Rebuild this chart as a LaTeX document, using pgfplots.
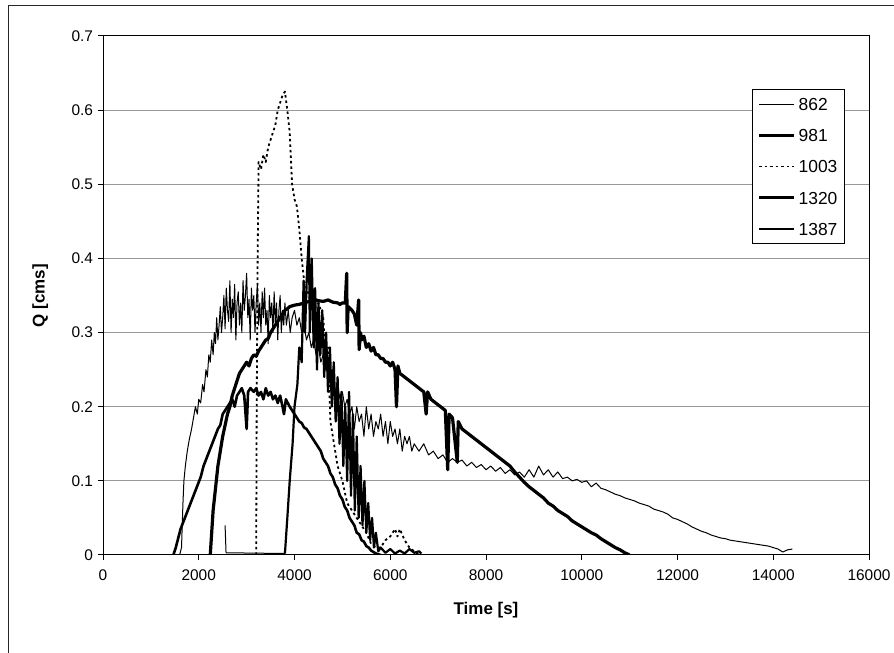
\documentclass[border=0pt]{standalone}
\usepackage{fontspec}
\setmainfont{Liberation Sans}
\usepackage{pgfplots}
\pgfplotsset{compat=1.18}
\begin{document}
\begin{tikzpicture}[x=1bp,y=1bp]
\path[use as bounding box] (0,0) rectangle (894,653);
\draw[line width=1bp, black!85] (8,0) -- (8,647) -- (894,647);
\begin{axis}[
  at={(103bp,98bp)}, anchor=south west,
  scale only axis, width=766bp, height=519bp,
  xmin=0, xmax=16000, ymin=0, ymax=0.7,
  xtick={0,2000,4000,6000,8000,10000,12000,14000,16000},
  ytick={0,0.1,0.2,0.3,0.4,0.5,0.6,0.7},
  scaled x ticks=false, scaled y ticks=false,
  xticklabel style={/pgf/number format/1000 sep={}, yshift=-6bp},
  yticklabel style={xshift=-1.5bp},
  /pgf/number format/assume math mode=true,
  tick label style={font=\fontsize{15.5}{18}\selectfont, black},
  tick align=outside, tick pos=left, major tick length=5bp,
  tick style={black, line width=1bp},
  axis line style={black, line width=1bp},
  ymajorgrids, major grid style={gray!80, line width=1bp},
  xlabel={Time [s]}, ylabel={Q [cms]},
  label style={font=\bfseries\fontsize{17}{20}\selectfont},
  xlabel style={at={(axis description cs:0.5,-0.106)}, anchor=center},
  ylabel style={at={(axis description cs:-0.082,0.5)}, anchor=center},
  legend style={at={(axis description cs:0.8473,0.8979)}, anchor=north west,
    draw=black, line width=0.8bp, fill=white,
    font=\fontsize{17.5}{20}\selectfont,
    nodes={inner sep=2bp, text height=12.6bp, text depth=0bp},
    inner xsep=5bp, inner ysep=6.5bp, row sep=14.6bp, column sep=1bp},
  legend cell align=left,
  legend image code/.code={\draw[#1] (0bp,0bp) -- (35bp,0bp);},
  every axis plot/.append style={line join=round, black},
]
% 862
\addplot[line width=1bp] table {
1600 0
1640 0.01
1670 0.07
1690 0.1
1720 0.12
1760 0.14
1800 0.155
1850 0.17
1890 0.185
1930 0.2
1970 0.19
2000 0.21
2040 0.205
2080 0.23
2110 0.22
2150 0.25
2180 0.24
2210 0.27
2240 0.26
2270 0.29
2300 0.27
2325 0.3
2350 0.285
2375 0.32
2400 0.29
2425 0.31
2450 0.335
2475 0.3
2500 0.32
2525 0.35
2550 0.305
2575 0.36
2600 0.33
2625 0.315
2650 0.37
2675 0.3
2700 0.345
2725 0.32
2750 0.365
2775 0.29
2800 0.34
2825 0.355
2850 0.31
2875 0.34
2900 0.3
2925 0.37
2950 0.33
2975 0.35
3000 0.38
3025 0.32
3050 0.345
3075 0.29
3100 0.36
3125 0.33
3150 0.35
3175 0.3
3200 0.34
3225 0.365
3250 0.31
3275 0.34
3300 0.3
3325 0.355
3350 0.32
3375 0.36
3400 0.31
3425 0.33
3450 0.285
3475 0.35
3500 0.32
3525 0.34
3550 0.3
3575 0.355
3600 0.31
3625 0.34
3650 0.29
3675 0.33
3700 0.35
3725 0.3
3750 0.33
3775 0.31
3800 0.34
3830 0.31
3870 0.33
3910 0.3
3950 0.32
4000 0.33
4050 0.31
4100 0.32
4150 0.3
4200 0.31
4250 0.29
4300 0.3
4350 0.28
4400 0.29
4450 0.27
4500 0.28
4550 0.26
4600 0.27
4650 0.25
4700 0.26
4750 0.24
4800 0.25
4850 0.22
4900 0.23
4950 0.21
5000 0.22
5050 0.2
5100 0.21
5150 0.19
5200 0.2
5250 0.17
5300 0.2
5350 0.18
5400 0.19
5450 0.16
5500 0.2
5550 0.17
5600 0.19
5650 0.16
5700 0.18
5750 0.17
5800 0.19
5850 0.16
5900 0.18
5950 0.15
6000 0.18
6050 0.16
6100 0.17
6150 0.15
6200 0.17
6250 0.14
6300 0.16
6350 0.15
6400 0.16
6450 0.14
6500 0.15
6600 0.14
6700 0.15
6800 0.135
6900 0.14
7000 0.13
7100 0.135
7200 0.125
7300 0.13
7400 0.125
7500 0.128
7600 0.12
7700 0.125
7800 0.118
7900 0.122
8000 0.115
8100 0.12
8200 0.113
8300 0.118
8400 0.11
8500 0.115
8600 0.108
8700 0.112
8800 0.105
8900 0.115
9000 0.105
9100 0.12
9200 0.108
9300 0.115
9400 0.105
9500 0.112
9600 0.103
9700 0.105
9800 0.1
9900 0.102
10000 0.098
10100 0.1
10200 0.092
10300 0.097
10400 0.09
10500 0.088
10600 0.085
10700 0.082
10800 0.08
10900 0.077
11000 0.075
11100 0.073
11200 0.07
11300 0.068
11400 0.066
11500 0.062
11600 0.06
11700 0.058
11800 0.055
11900 0.05
12000 0.048
12100 0.045
12200 0.042
12300 0.038
12400 0.035
12500 0.032
12600 0.03
12700 0.027
12800 0.025
12900 0.023
13000 0.022
13100 0.02
13200 0.019
13300 0.018
13400 0.017
13500 0.016
13600 0.015
13700 0.014
13800 0.013
13900 0.012
14000 0.01
14100 0.008
14200 0.004
14300 0.007
14400 0.008
};
\addlegendentry{862}
% 981
\addplot[line width=2.6bp] table {
1470 0
1520 0.01
1560 0.02
1620 0.035
1680 0.045
1740 0.055
1800 0.065
1860 0.075
1920 0.085
1980 0.095
2040 0.105
2100 0.12
2160 0.13
2220 0.14
2280 0.15
2340 0.16
2400 0.17
2450 0.175
2500 0.19
2550 0.195
2600 0.2
2650 0.205
2700 0.21
2750 0.2
2800 0.215
2850 0.22
2900 0.225
2950 0.215
3000 0.17
3030 0.22
3080 0.225
3150 0.22
3200 0.225
3250 0.215
3300 0.22
3350 0.21
3400 0.225
3450 0.215
3500 0.22
3550 0.21
3600 0.215
3650 0.205
3700 0.215
3750 0.2
3780 0.19
3820 0.21
3900 0.2
3950 0.195
4000 0.19
4050 0.185
4100 0.18
4150 0.178
4200 0.172
4250 0.17
4300 0.165
4350 0.16
4400 0.155
4450 0.15
4500 0.145
4550 0.14
4600 0.13
4650 0.125
4700 0.12
4750 0.11
4800 0.105
4850 0.095
4900 0.09
4950 0.08
5000 0.075
5050 0.065
5100 0.06
5150 0.05
5200 0.045
5250 0.04
5300 0.03
5350 0.028
5400 0.02
5450 0.018
5500 0.012
5550 0.01
5600 0.006
5650 0.004
5700 0.002
5800 0
};
\addlegendentry{981}
% 1003
\addplot[line width=1.8bp, dash pattern=on 2.5bp off 3bp] table {
3200 0
3210 0.2
3230 0.4
3250 0.53
3300 0.52
3350 0.54
3400 0.53
3450 0.55
3500 0.56
3550 0.57
3600 0.58
3650 0.6
3700 0.61
3750 0.62
3800 0.625
3850 0.6
3900 0.57
3950 0.5
4000 0.48
4050 0.47
4100 0.44
4150 0.4
4200 0.37
4300 0.35
4400 0.33
4500 0.34
4600 0.32
4650 0.27
4700 0.28
4750 0.18
4800 0.16
4850 0.14
4900 0.12
5000 0.1
5100 0.07
5200 0.06
5300 0.05
5400 0.04
5500 0.03
5600 0.015
5700 0.01
5800 0.01
5900 0.02
6000 0.025
6100 0.035
6150 0.025
6200 0.035
6300 0.02
6400 0.01
6500 0.005
6600 0
};
\addlegendentry{1003}
% 1320
\addplot[line width=3.2bp] table {
2240 0
2270 0.03
2300 0.06
2350 0.09
2400 0.12
2450 0.14
2500 0.16
2550 0.175
2600 0.19
2650 0.2
2700 0.215
2750 0.225
2800 0.235
2850 0.245
2900 0.25
2950 0.255
3000 0.26
3050 0.255
3100 0.265
3150 0.27
3200 0.268
3250 0.275
3300 0.28
3350 0.285
3400 0.29
3450 0.292
3500 0.3
3550 0.305
3600 0.31
3650 0.315
3700 0.32
3750 0.325
3800 0.33
3850 0.332
3900 0.335
4000 0.337
4100 0.338
4200 0.34
4300 0.342
4400 0.345
4500 0.343
4600 0.342
4700 0.344
4800 0.341
4900 0.34
4950 0.338
5000 0.34
5060 0.34
5090 0.38
5100 0.30
5120 0.335
5200 0.33
5250 0.325
5300 0.31
5340 0.344
5350 0.277
5380 0.3
5400 0.29
5450 0.295
5500 0.28
5550 0.285
5600 0.275
5650 0.28
5700 0.27
5750 0.27
5800 0.265
5850 0.265
5900 0.26
5950 0.26
6000 0.255
6050 0.26
6100 0.25
6130 0.2
6160 0.255
6200 0.245
6300 0.24
6400 0.235
6500 0.23
6600 0.225
6700 0.22
6750 0.19
6780 0.22
6850 0.21
6950 0.205
7050 0.2
7150 0.195
7200 0.115
7230 0.19
7300 0.185
7400 0.125
7420 0.18
7500 0.17
7600 0.165
7700 0.16
7800 0.155
7900 0.15
8000 0.145
8100 0.14
8200 0.135
8300 0.13
8400 0.125
8500 0.12
8600 0.112
8700 0.105
8800 0.098
8900 0.092
9000 0.087
9100 0.082
9200 0.077
9300 0.07
9400 0.066
9500 0.06
9600 0.056
9700 0.052
9800 0.046
9900 0.042
10000 0.038
10100 0.034
10200 0.03
10300 0.027
10400 0.022
10500 0.018
10600 0.014
10700 0.01
10800 0.007
10900 0.003
11000 0
};
\addlegendentry{1320}
% 1387
\addplot[line width=2.2bp] table {
3800 0.002
3850 0.05
3900 0.1
3960 0.15
4000 0.2
4060 0.23
4100 0.28
4150 0.26
4190 0.37
4220 0.3
4260 0.38
4300 0.43
4320 0.3
4360 0.4
4400 0.28
4430 0.36
4470 0.25
4500 0.34
4540 0.27
4580 0.33
4620 0.24
4660 0.3
4700 0.22
4740 0.28
4780 0.2
4820 0.26
4860 0.18
4900 0.24
4940 0.15
4980 0.22
5020 0.12
5060 0.2
5100 0.1
5140 0.22
5180 0.08
5220 0.19
5260 0.06
5300 0.16
5340 0.05
5380 0.12
5420 0.04
5460 0.1
5500 0.03
5540 0.07
5580 0.02
5620 0.05
5660 0.01
5700 0.03
5750 0.005
5800 0.01
5900 0.003
6000 0.008
6100 0.002
6200 0.006
6300 0.002
6400 0.008
6500 0.003
6600 0.005
6650 0.002
};
\addlegendentry{1387}
\addplot[line width=1bp, forget plot] table {
2550 0.04
2570 0.003
3800 0.002
};
\end{axis}
\end{tikzpicture}
\end{document}
